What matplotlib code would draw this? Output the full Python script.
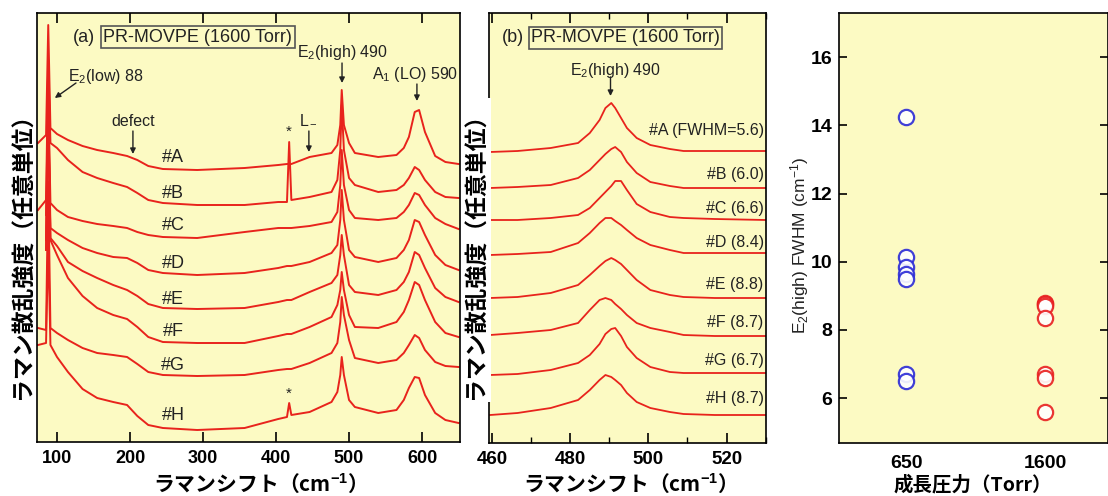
import numpy as np
import matplotlib
matplotlib.use('Agg')
import matplotlib.pyplot as plt
from matplotlib.ticker import MultipleLocator

plt.rcParams['font.family'] = ['Liberation Sans', 'DejaVu Sans']
plt.rcParams['mathtext.fontset'] = 'custom'
plt.rcParams['mathtext.rm'] = 'Liberation Sans'
plt.rcParams['mathtext.it'] = 'Liberation Sans:italic'
plt.rcParams['mathtext.bf'] = 'Liberation Sans:bold'
plt.rcParams['axes.linewidth'] = 1.2

JP = ['Noto Sans CJK JP', 'DejaVu Sans']
BG = '#fcfac3'
RED = '#e8231c'
nan = np.nan

# (a) spectra 73-650 cm-1, arbitrary units
shift_a = [74, 85, 88, 91, 100, 115, 135, 155, 177, 196, 210, 225, 245, 292, 357, 403, 415, 418, 421, 446,
           476, 484, 488, 490, 493, 500, 508, 540, 565, 575, 582, 590, 596, 604, 618, 632, 650]
spec_a = [
    [299, 307, 417, 314, 308, 302, 296, 292, 289, 286, 282, 276, 273, 272, 274, 277, 278, 278, 278, 285,
     289, 297, 317, 352, 317, 299, 289, 285, 287, 294, 305, 330, 332, 310, 286, 280, 278],
    [232, 242, 382, 299, 294, 282, 270, 264, 259, 255, 249, 242, 239, 237, 237, 240, 240, 300, 242, 245,
     250, 262, 292, 337, 292, 264, 257, 250, 252, 257, 264, 275, 272, 262, 250, 245, 244],
    [nan, 227, 352, 239, 232, 225, 221, 218, 216, 214, 210, 207, 205, 204, 210, 214, 214, 214, 214, 216,
     220, 230, 257, 292, 257, 232, 224, 222, 224, 230, 237, 249, 247, 237, 224, 218, 213],
    [nan, 202, 342, 214, 209, 202, 194, 189, 185, 184, 179, 172, 169, 167, 169, 174, 176, 176, 176, 180,
     189, 197, 222, 252, 222, 192, 185, 180, 184, 192, 202, 222, 220, 207, 187, 177, 172],
    [nan, 192, 332, 204, 196, 180, 171, 164, 157, 152, 146, 138, 134, 133, 134, 140, 142, 142, 142, 150,
     159, 167, 187, 207, 187, 157, 150, 147, 152, 160, 170, 190, 187, 174, 154, 145, 140],
    [nan, 192, 322, 202, 187, 164, 146, 134, 127, 123, 115, 105, 100, 99, 99, 106, 108, 108, 108, 115,
     125, 137, 152, 170, 152, 127, 115, 114, 120, 130, 142, 160, 157, 142, 120, 109, 105],
    [114, 112, 260, 114, 109, 102, 94, 89, 87, 85, 78, 70, 67, 66, 67, 72, 73, 73, 73, 79,
     89, 99, 120, 145, 127, 102, 84, 79, 82, 89, 97, 107, 104, 92, 80, 76, 75],
    [97, 99, 200, 97, 85, 70, 53, 44, 40, 37, 26, 17, 14, 12, 14, 23, 25, 39, 27, 30,
     40, 50, 67, 85, 67, 42, 35, 29, 32, 42, 54, 65, 64, 47, 29, 22, 19],
]

# (b) E2(high) region
shift_b = [459.5, 466.5, 475, 482, 485, 487.5, 489, 490.5, 491.5, 493, 494.5, 497, 500.5, 505.5, 509, 517, 530]
spec_b = [
    [291, 292, 295, 300, 310, 323, 335, 340, 335, 325, 315, 305, 298, 294, 292, 292, 292],
    [255, 256, 258, 265, 273, 283, 289, 294, 296, 291, 281, 270, 261, 257, 255, 255, 255],
    [223, 223, 225, 228, 235, 245, 251, 257, 262, 262, 253, 239, 231, 226, 225, 224, 223],
    [188, 189, 191, 200, 210, 220, 225, 225, 222, 218, 213, 205, 198, 193, 190, 190, 190],
    [145, 146, 150, 158, 168, 177, 182, 185, 183, 179, 173, 163, 153, 148, 146, 145, 145],
    [108, 110, 113, 120, 133, 143, 145, 143, 139, 134, 128, 120, 115, 111, 108, 107, 107],
    [68, 69, 73, 80, 88, 99, 109, 114, 115, 107, 96, 85, 76, 71, 70, 70, 70],
    [28, 30, 35, 43, 53, 63, 68, 66, 63, 58, 50, 41, 35, 31, 29, 28, 28],
]

samples = ['#A', '#B', '#C', '#D', '#E', '#F', '#G', '#H']
fwhm_b = ['5.6', '6.0', '6.6', '8.4', '8.8', '8.7', '6.7', '8.7']

# (c) FWHM vs growth pressure
pressures = [650, 1600]
fwhm_650 = [14.25, 10.15, 9.85, 9.65, 9.5, 6.7, 6.5]
fwhm_1600 = [8.8, 8.75, 8.7, 8.35, 6.7, 6.6, 5.6]

W, H = 1108, 496
fig = plt.figure(figsize=(W / 100, H / 100), dpi=100)


def box(l, t, r, b):
    return [l / W, 1 - b / H, (r - l) / W, (b - t) / H]


arrow = dict(arrowstyle='-|>', color='#222222', lw=1.0, mutation_scale=8, shrinkA=0, shrinkB=0)

# ---------- (a)
ax = fig.add_axes(box(37, 13, 460, 442))
ax.set_facecolor(BG)
for ys in spec_a:
    ax.plot(shift_a, ys, color=RED, lw=1.4)
ax.set_xlim(72.6, 652)
ax.set_ylim(0, 429)
ax.set_yticks([])
ax.xaxis.set_major_locator(MultipleLocator(100))
ax.tick_params(axis='x', direction='in', top=True, length=7, width=1.2, pad=6, labelsize=13)
for t in ax.get_xticklabels():
    t.set_fontweight('bold')

ax.text(137, 405, '(a)', ha='center', va='center', fontsize=13, color='#222')
ax.text(293, 405, 'PR-MOVPE (1600 Torr)', ha='center', va='center', fontsize=13, color='#222',
        bbox=dict(boxstyle='square,pad=0.12', fc='none', ec='#555', lw=1.2))
ax.text(115, 365, 'E$_2$(low) 88', ha='left', va='center', fontsize=11.5, color='#222')
ax.annotate('', xy=(97, 344), xytext=(126, 359), arrowprops=arrow)
ax.text(204, 320, 'defect', ha='center', va='center', fontsize=11.5, color='#222')
ax.annotate('', xy=(204, 288), xytext=(204, 311), arrowprops=arrow)
ax.text(445, 322, 'L$_-$', ha='center', va='center', fontsize=11.5, color='#222')
ax.annotate('', xy=(445, 290), xytext=(445, 311), arrowprops=arrow)
ax.text(490.4, 389, 'E$_2$(high) 490', ha='center', va='center', fontsize=11.5, color='#222')
ax.annotate('', xy=(490.4, 359), xytext=(490.4, 379), arrowprops=arrow)
ax.text(590, 367, 'A$_1$ (LO) 590', ha='center', va='center', fontsize=11.5, color='#222')
ax.annotate('', xy=(593, 341), xytext=(593, 358), arrowprops=arrow)
ax.text(417, 310, '*', ha='center', va='center', fontsize=11, color='#222')
ax.text(417, 48, '*', ha='center', va='center', fontsize=11, color='#222')
label_y_a = [285, 249, 217, 179, 142, 110, 77, 27]
for s, y in zip(samples, label_y_a):
    ax.text(259, y, s, ha='center', va='center', fontsize=13, color='#222')

# ---------- (b)
bx = fig.add_axes(box(489, 13, 766, 443))
bx.set_facecolor(BG)
for ys in spec_b:
    bx.plot(shift_b, ys, color=RED, lw=1.3)
bx.set_xlim(459.2, 530.1)
bx.set_ylim(0, 430)
bx.set_yticks([])
bx.xaxis.set_major_locator(MultipleLocator(20))
bx.xaxis.set_minor_locator(MultipleLocator(10))
bx.tick_params(axis='x', which='major', direction='in', top=True, length=7, width=1.2, pad=6, labelsize=13.5)
bx.tick_params(axis='x', which='minor', direction='in', top=True, length=4, width=1.0)
for t in bx.get_xticklabels():
    t.set_fontweight('bold')

bx.text(465.3, 405, '(b)', ha='center', va='center', fontsize=13, color='#222')
bx.text(494.1, 405, 'PR-MOVPE (1600 Torr)', ha='center', va='center', fontsize=13, color='#222',
        bbox=dict(boxstyle='square,pad=0.12', fc='none', ec='#555', lw=1.2))
bx.text(491.6, 373, 'E$_2$(high) 490', ha='center', va='center', fontsize=11.5, color='#222')
bx.annotate('', xy=(490.3, 347), xytext=(490.3, 366), arrowprops=arrow)
label_y_b = [313, 268, 235, 201, 158, 121, 83, 45]
for i, (s, f) in enumerate(zip(samples, fwhm_b)):
    txt = f'{s} (FWHM={f})' if i == 0 else f'{s} ({f})'
    bx.text(529.5, label_y_b[i], txt, ha='right', va='center', fontsize=11.5, color='#222')

# ---------- (c)
cx = fig.add_axes(box(839, 13, 1108, 443))
cx.set_facecolor(BG)
cx.plot([pressures[0]] * len(fwhm_650), fwhm_650, 'o', mfc='white', mec='#2b2bd6', ms=11, mew=1.6,
        alpha=0.9)
cx.plot([pressures[1]] * len(fwhm_1600), fwhm_1600, 'o', mfc='white', mec='#e82020', ms=11, mew=1.6,
        alpha=0.9)
cx.set_xlim(190, 2030)
cx.set_ylim(4.68, 17.3)
cx.set_xticks(pressures)
cx.set_yticks([6, 8, 10, 12, 14, 16])
cx.tick_params(axis='y', direction='in', right=True, length=6, width=1.2, labelsize=14, pad=5)
cx.tick_params(axis='x', direction='in', length=0, labelsize=14, pad=9)
for t in cx.get_xticklabels() + cx.get_yticklabels():
    t.set_fontweight('bold')

# axis titles
fig.text(23 / W, 1 - 250 / H, 'ラマン散乱強度（任意単位）', rotation=90, ha='center', va='center',
         family=JP, fontweight='bold', fontsize=16.5)
fig.text(476 / W, 1 - 250 / H, 'ラマン散乱強度（任意単位）', rotation=90, ha='center', va='center',
         family=JP, fontweight='bold', fontsize=16.5,
         bbox=dict(boxstyle='square,pad=0.15', fc='white', ec='none'))
fig.text(255 / W, 1 - 483 / H, 'ラマンシフト（cm$^{\\mathbf{-1}}$）', ha='center', va='center',
         family=JP, fontweight='bold', fontsize=15)
fig.text(625 / W, 1 - 483 / H, 'ラマンシフト（cm$^{\\mathbf{-1}}$）', ha='center', va='center',
         family=JP, fontweight='bold', fontsize=15)
fig.text(973 / W, 1 - 485 / H, '成長圧力（Torr）', ha='center', va='center',
         family=JP, fontweight='bold', fontsize=14)
fig.text(800 / W, 1 - 245 / H, 'E$_2$(high) FWHM (cm$^{-1}$)', rotation=90, ha='center', va='center',
         fontsize=12.5, color='#222')

fig.savefig('out.png', dpi=100, facecolor='white')
